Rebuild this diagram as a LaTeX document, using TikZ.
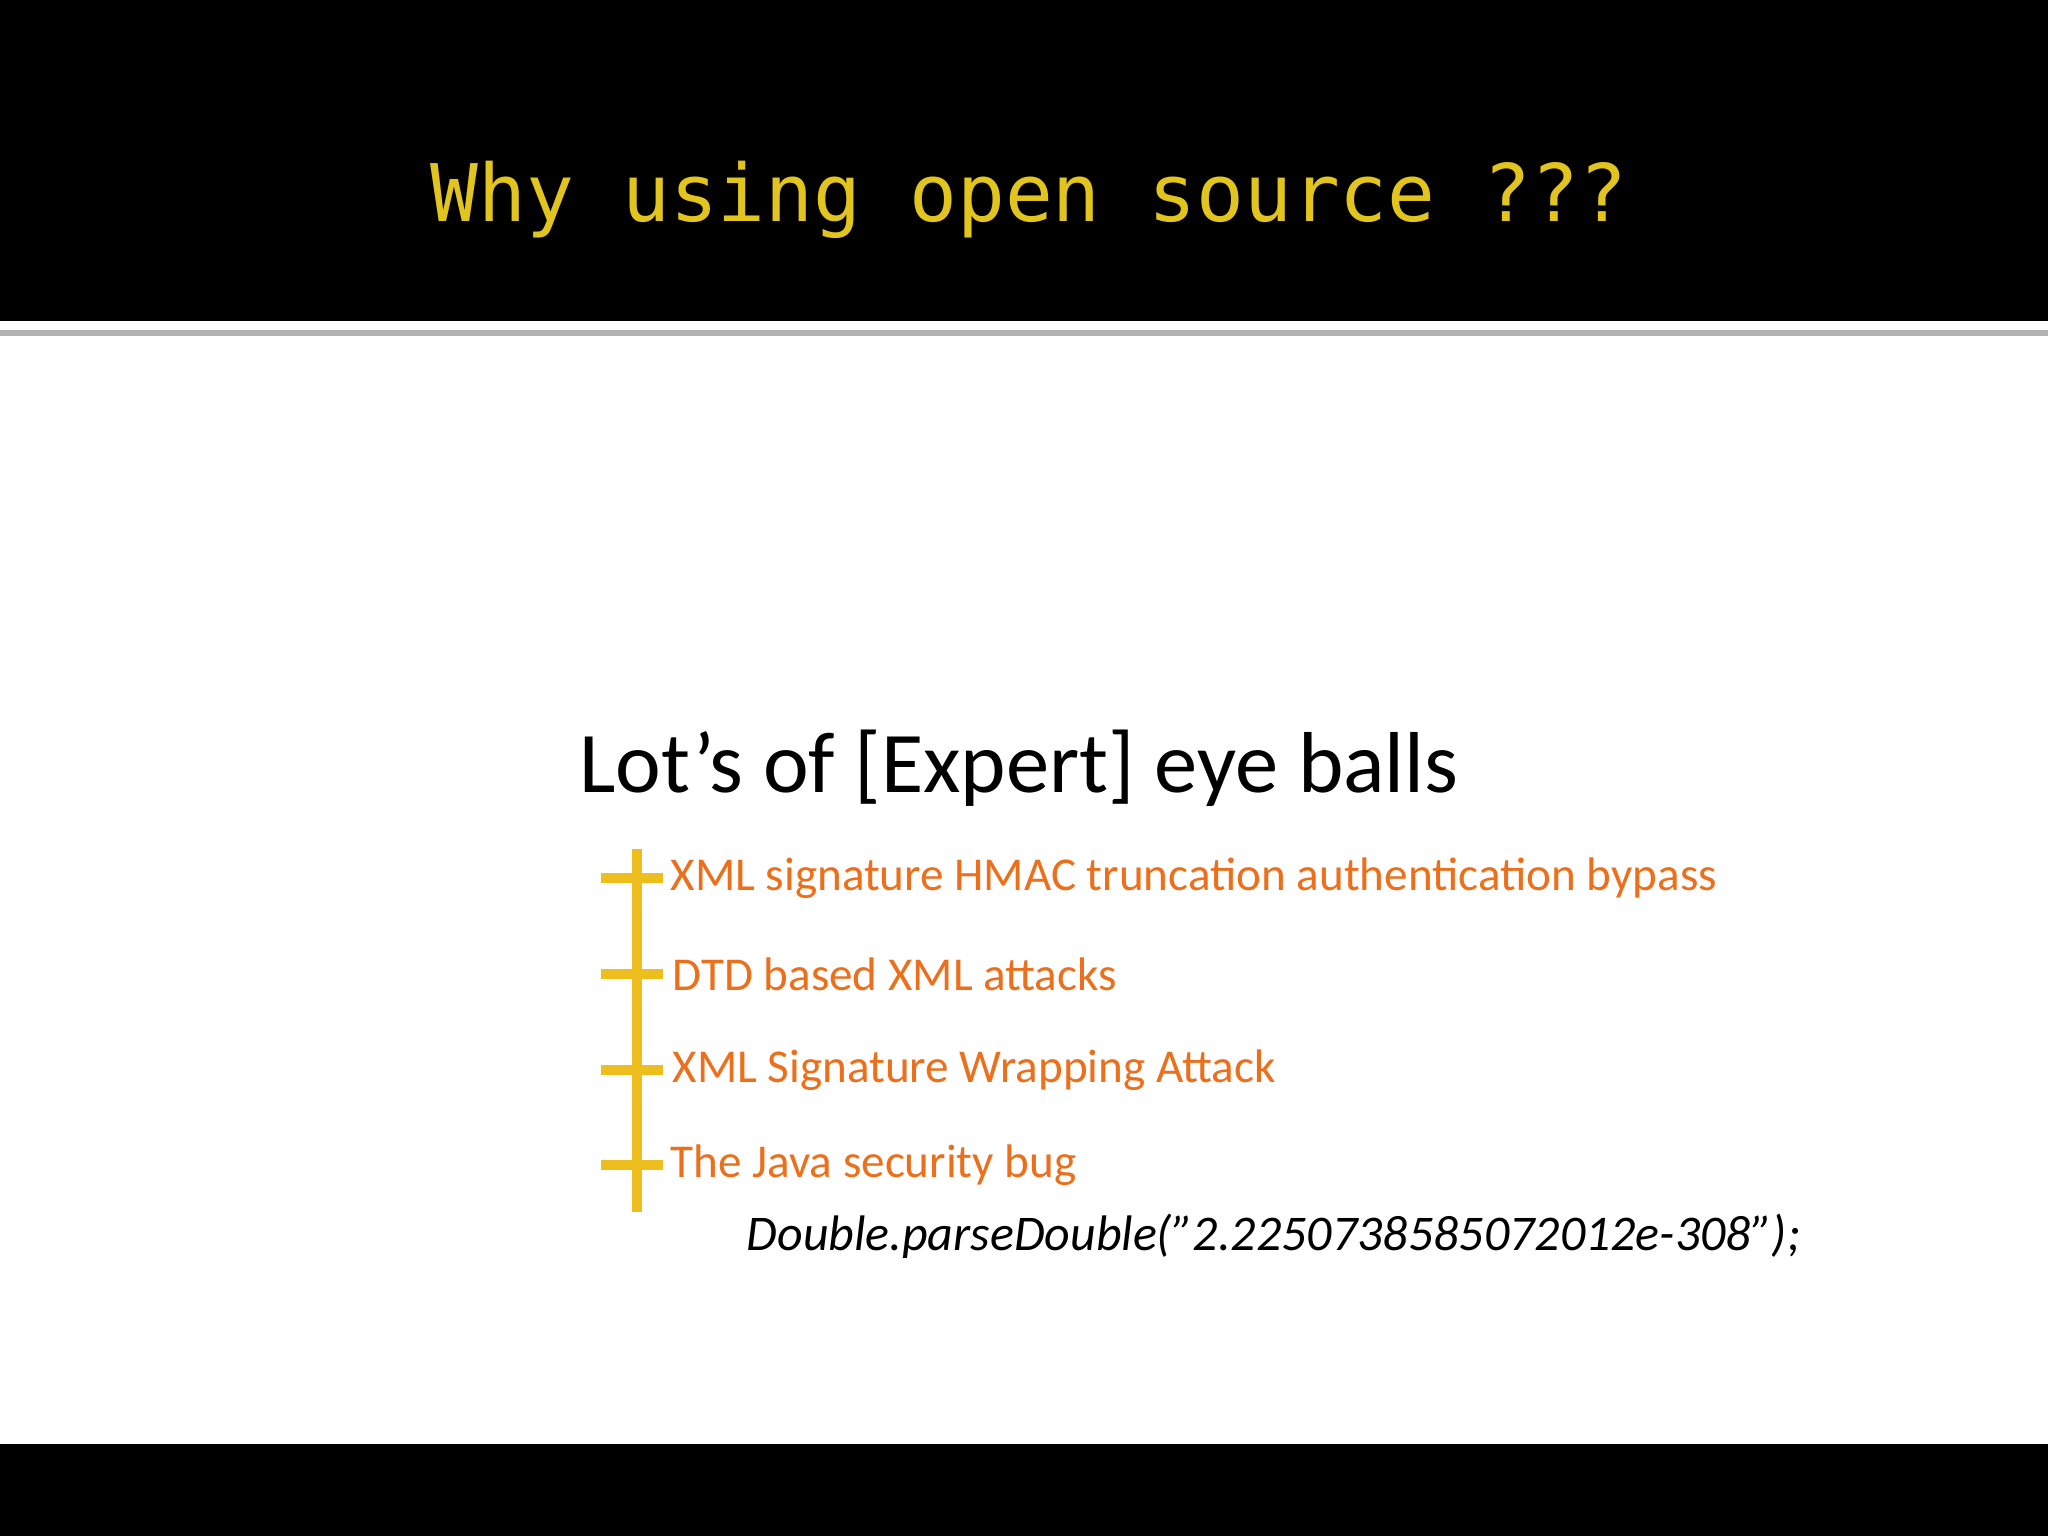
\documentclass[tikz,border=0pt]{standalone}
\usepackage{fontspec}
\setmainfont{Carlito}
\newfontfamily\monof{DejaVu Sans Mono}
\definecolor{ttl}{RGB}{226,196,30}
\definecolor{org}{RGB}{236,112,28}
\definecolor{bar}{RGB}{238,190,30}
\begin{document}
\begin{tikzpicture}[x=0.01cm,y=-0.01cm,
 item/.style={anchor=west,text=org,font=\fontsize{13.4}{16}\selectfont,inner sep=0},
 tick/.style={draw=bar,line width=2.8pt}]
\useasboundingbox (0,0) rectangle (2048,1536);
\fill[white] (0,0) rectangle (2048,1536);
\fill[black] (0,0) rectangle (2048,321);
\draw[gray!60,line width=1.5pt] (0,333) -- (2048,333);
\fill[black] (0,1444) rectangle (2048,1536);
\node (title) at (1029,200) {\monof\fontsize{22.6}{28}\selectfont\color{ttl}Why using open source ???};
\node (head) at (1019,768) {\fontsize{24.6}{30}\selectfont Lot’s of [Expert] eye balls};
\node[item] (i1) at (670,878) {XML signature HMAC truncation authentication bypass};
\node[item] (i2) at (672,974) {DTD based XML attacks};
\node[item] (i3) at (672,1070) {XML Signature Wrapping Attack};
\node[item] (i4) at (670,1165) {The Java security bug};
\node[anchor=west,inner sep=0,font=\fontsize{14.2}{17}\itshape] (j) at (746,1236) {Double.parseDouble(\symbol{34}2.2250738585072012e-308\symbol{34});};
\coordinate (top) at (637,849);
\coordinate (bot) at (637,1212);
\draw[tick] (top) -- (bot);
\foreach \n in {i1,i2,i3,i4}{\draw[tick] (601,0 |- \n.west) -- (663,0 |- \n.west);}
\end{tikzpicture}
\end{document}
